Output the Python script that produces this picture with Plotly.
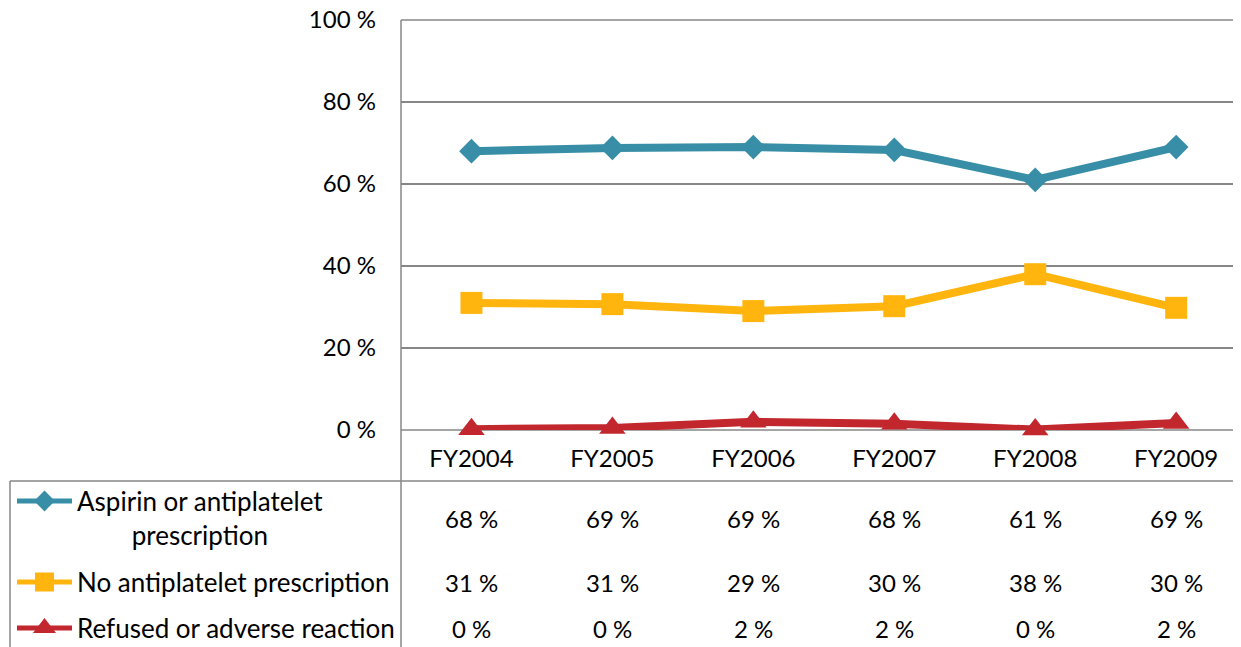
import plotly.graph_objects as go

# data
years = ["FY2004", "FY2005", "FY2006", "FY2007", "FY2008", "FY2009"]
aspirin = [68.0, 68.8, 69.0, 68.3, 61.0, 69.0]
no_antiplatelet = [31.0, 30.7, 29.0, 30.2, 38.0, 29.8]
refused = [0.2, 0.5, 2.0, 1.5, 0.1, 1.7]

# data table text
aspirin_labels = ["68 %", "69 %", "69 %", "68 %", "61 %", "69 %"]
no_antiplatelet_labels = ["31 %", "31 %", "29 %", "30 %", "38 %", "30 %"]
refused_labels = ["0 %", "0 %", "2 %", "2 %", "0 %", "2 %"]

series_names = [
    "Aspirin or antiplatelet<br>prescription",
    "No antiplatelet prescription",
    "Refused or adverse reaction",
]
y_ticks = [0, 20, 40, 60, 80, 100]
y_ticktext = ["0 %", "20 %", "40 %", "60 %", "80 %", "100 %"]

# styles
OFF = 8  # the page body adds an 8px margin
W, H = 1241 - OFF, 647 - OFF
FONT = "Lato"
colors = ["#378ea6", "#ffb50d", "#c1272d"]
symbols = ["diamond", "square", "triangle-up"]
sizes = [19, 22, 23]
grid = "#878787"


def px(x):
    return (x - OFF) / W


def py(y):
    return (H - (y - OFF)) / H


series = [aspirin, no_antiplatelet, refused]
labels = [aspirin_labels, no_antiplatelet_labels, refused_labels]
row_y = [518, 582, 628]
swatch_y = [501, 582, 628]

fig = go.Figure()

# main lines
for vals, col, sym, sz in zip(series, colors, symbols, sizes):
    fig.add_trace(go.Scatter(
        x=years, y=vals, mode="lines+markers",
        line=dict(color=col, width=8),
        marker=dict(symbol=sym, size=sz, color=col),
        showlegend=False, cliponaxis=False,
    ))

# legend keys in the data table (overlay axis in pixel units)
for col, sym, sz, yy in zip(colors, symbols, sizes, swatch_y):
    fig.add_trace(go.Scatter(
        x=[17 - OFF, 72 - OFF], y=[yy - OFF] * 2, mode="lines",
        line=dict(color=col, width=5),
        xaxis="x2", yaxis="y2", showlegend=False,
    ))
    fig.add_trace(go.Scatter(
        x=[44.5 - OFF], y=[yy - OFF], mode="markers",
        marker=dict(symbol=sym, size=sz - 3, color=col, opacity=1),
        xaxis="x2", yaxis="y2", showlegend=False,
    ))

# data table: series names and values
for name, yy in zip(series_names, row_y):
    fig.add_annotation(
        x=px(75), y=py(yy), xref="paper", yref="paper",
        text=name, showarrow=False, xanchor="left", yanchor="middle",
        align="center", font=dict(family=FONT, size=26, color="black"),
    )
for labs, yy in zip(labels, row_y):
    for yr, lab in zip(years, labs):
        fig.add_annotation(
            x=yr, y=py(yy), xref="x", yref="paper",
            text=lab, showarrow=False, xanchor="center", yanchor="middle",
            font=dict(family=FONT, size=24, color="black"),
        )

# table borders, axis line and the 0 / 100 gridlines
line_style = dict(color=grid, width=1.5)
fig.add_shape(type="line", xref="paper", yref="paper",
              x0=px(401), x1=px(401), y0=py(20), y1=0, line=line_style)
fig.add_shape(type="line", xref="paper", yref="paper",
              x0=px(10), x1=1, y0=py(481), y1=py(481), line=line_style)
fig.add_shape(type="line", xref="paper", yref="paper",
              x0=px(10), x1=px(10), y0=py(481), y1=0, line=line_style)
for yy in (20, 430):
    fig.add_shape(type="line", xref="paper", yref="paper",
                  x0=px(401), x1=1, y0=py(yy), y1=py(yy),
                  line=line_style, layer="below")

fig.update_layout(
    template="none",
    width=W, height=H,
    margin=dict(l=0, r=0, t=0, b=0, pad=0),
    paper_bgcolor="white",
    plot_bgcolor="rgba(0,0,0,0)",
    font=dict(family=FONT, size=24, color="black"),
    xaxis=dict(
        domain=[px(401), 1], type="category", range=[-0.5, 5.46],
        showgrid=False, zeroline=False, showline=False, automargin=False,
        ticks="", ticklabelstandoff=12,
        tickfont=dict(family=FONT, size=24, color="black"),
    ),
    yaxis=dict(
        domain=[py(430), py(20)], range=[0, 100],
        tickmode="array", tickvals=y_ticks, ticktext=y_ticktext,
        showgrid=True, gridcolor=grid, gridwidth=1.5,
        zeroline=False, showline=False, automargin=False,
        ticks="", ticklabelstandoff=24, ticklabeloverflow="allow",
        tickfont=dict(family=FONT, size=24, color="black"),
    ),
    xaxis2=dict(domain=[0, 1], range=[0, W], visible=False,
                anchor="y2", fixedrange=True, automargin=False),
    yaxis2=dict(domain=[0, 1], range=[H, 0], visible=False,
                anchor="x2", fixedrange=True, automargin=False),
)

fig.write_html("out.html")
